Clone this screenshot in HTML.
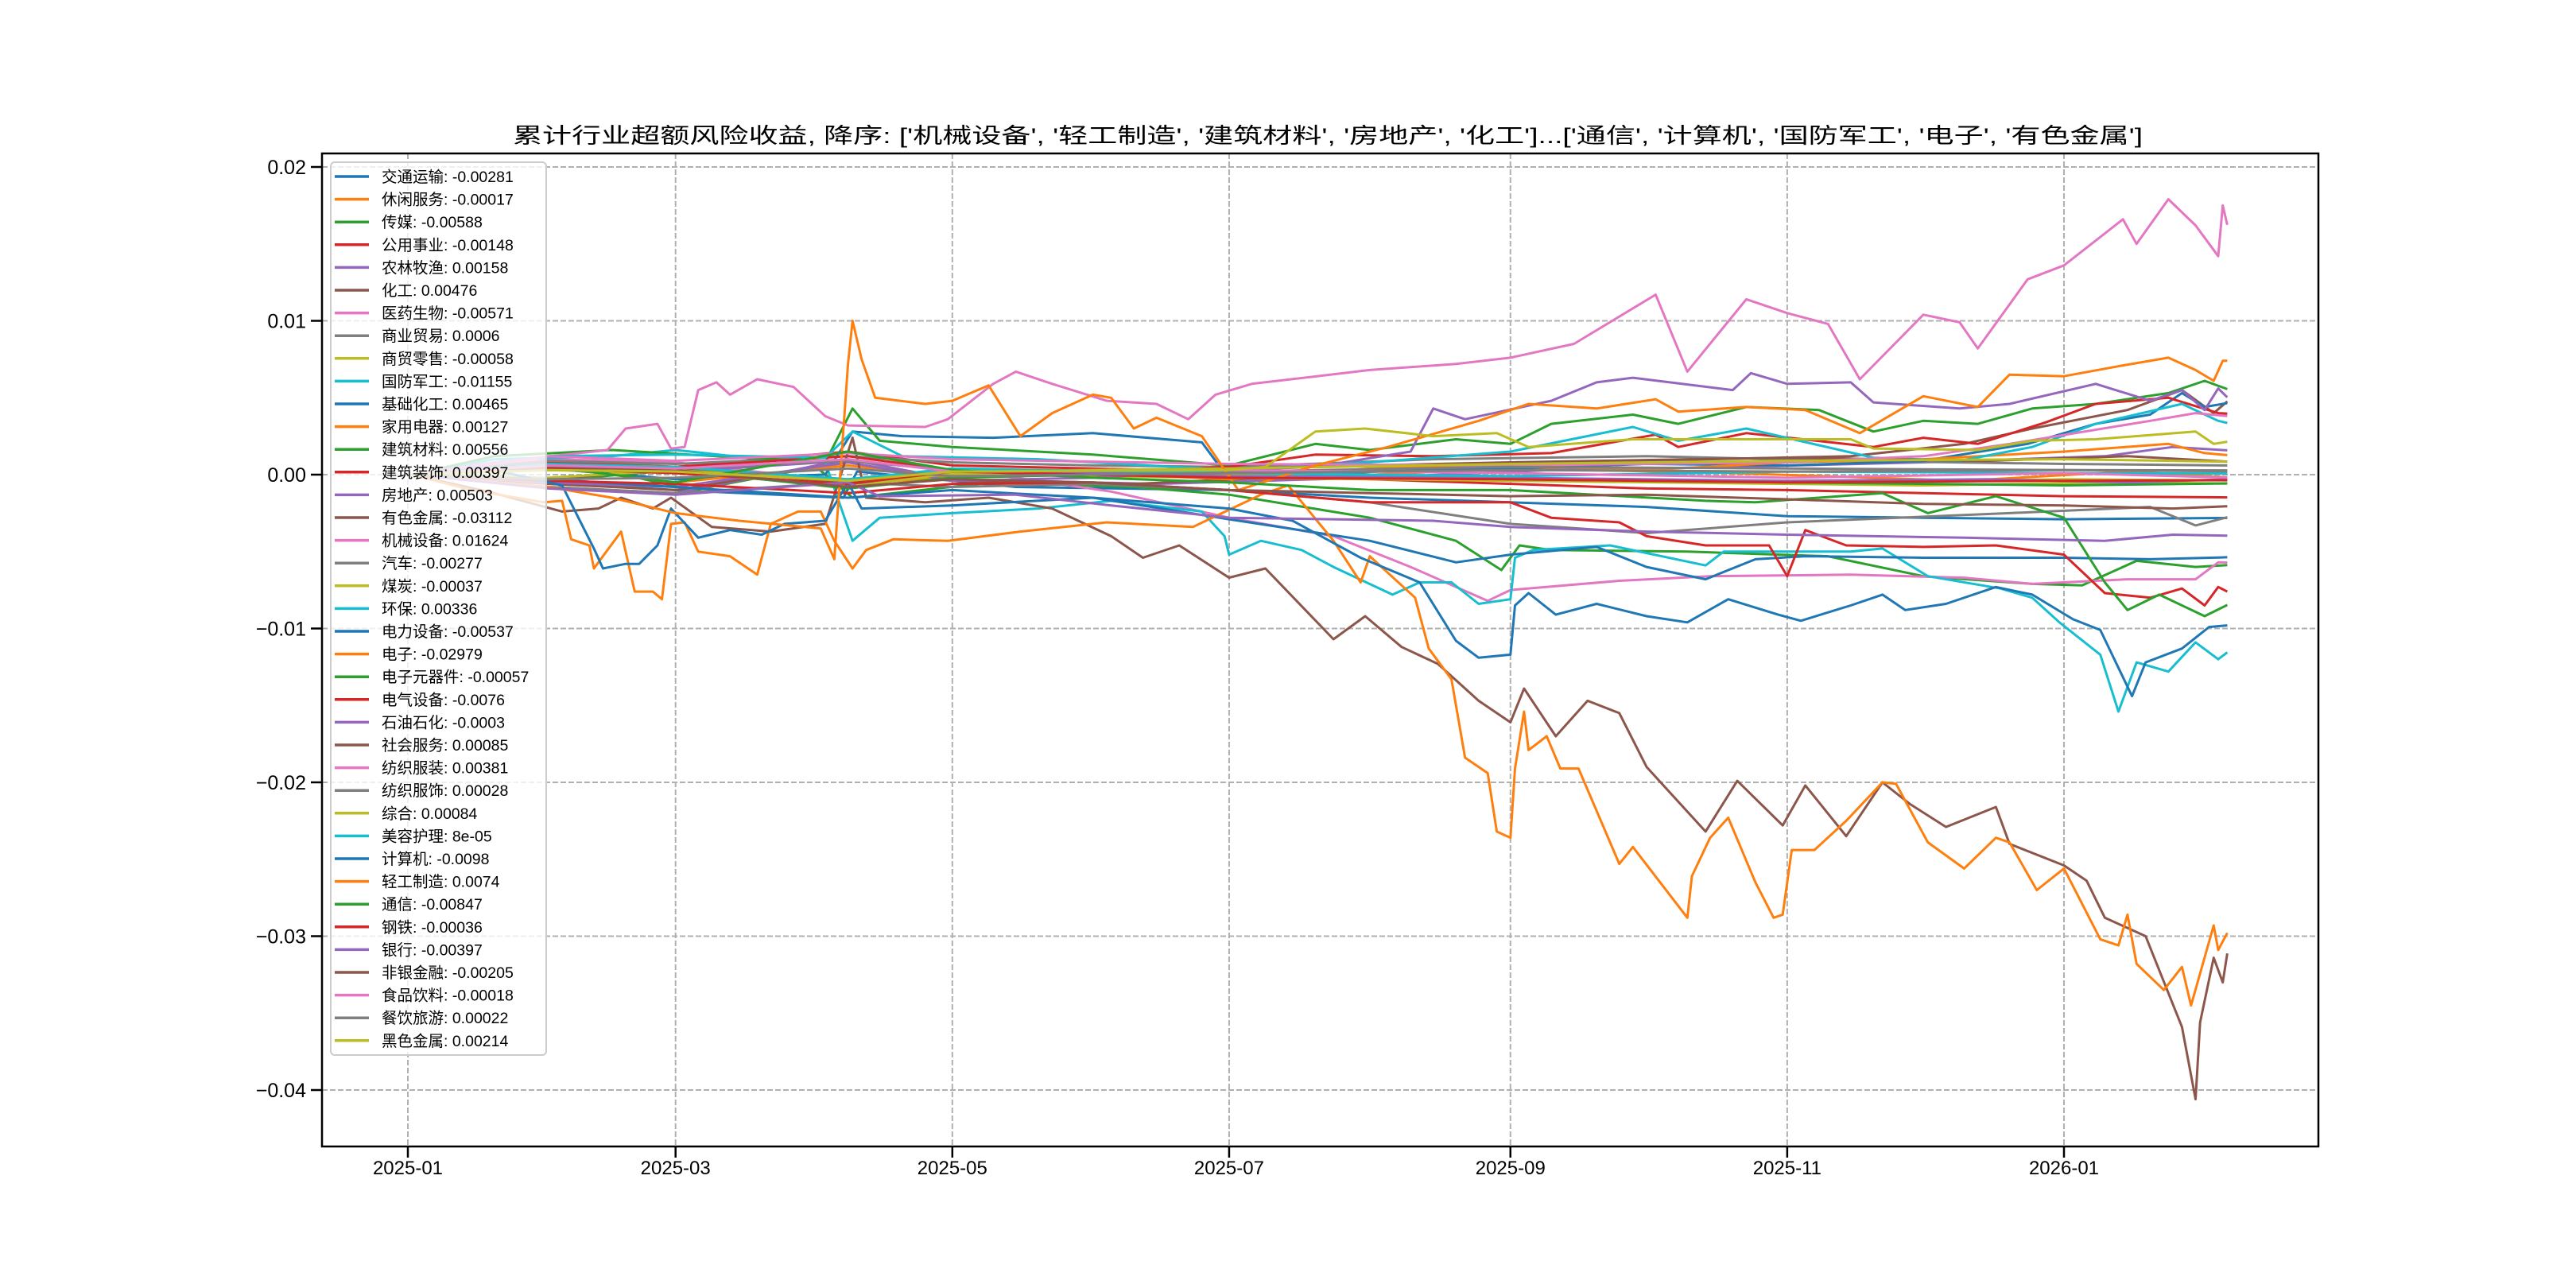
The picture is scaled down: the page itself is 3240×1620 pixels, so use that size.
<!DOCTYPE html>
<html><head><meta charset="utf-8"><style>
html,body{margin:0;padding:0;background:#fff;}
svg{display:block;font-family:"Liberation Sans","Noto Sans CJK SC",sans-serif;}
</style></head><body>
<svg id="chart" width="3240" height="1620" viewBox="0 0 3240 1620" xmlns="http://www.w3.org/2000/svg">
<rect x="0" y="0" width="3240" height="1620" fill="#fff"/>
<text x="1670" y="180" font-size="27" text-anchor="middle" textLength="2050" lengthAdjust="spacingAndGlyphs" fill="#000">累计行业超额风险收益,  降序: ['机械设备', '轻工制造', '建筑材料', '房地产', '化工']...['通信', '计算机', '国防军工', '电子', '有色金属']</text>
<g id="grid"></g>
<g id="lines"></g>
<rect x="405" y="193" width="2511" height="1249" fill="none" stroke="#000" stroke-width="2.5"/>
<g id="axes"></g>
<g id="legend"></g>
</svg>
<script>
const seriesNames = ['交通运输','休闲服务','传媒','公用事业','农林牧渔','化工','医药生物','商业贸易','商贸零售','国防军工','基础化工','家用电器','建筑材料','建筑装饰','房地产','有色金属','机械设备','汽车','煤炭','环保','电力设备','电子','电子元器件','电气设备','石油石化','社会服务','纺织服装','纺织服饰','综合','美容护理','计算机','轻工制造','通信','钢铁','银行','非银金融','食品饮料','餐饮旅游','黑色金属'];
const legendValues = ['-0.00281','-0.00017','-0.00588','-0.00148','0.00158','0.00476','-0.00571','0.0006','-0.00058','-0.01155','0.00465','0.00127','0.00556','0.00397','0.00503','-0.03112','0.01624','-0.00277','-0.00037','0.00336','-0.00537','-0.02979','-0.00057','-0.0076','-0.0003','0.00085','0.00381','0.00028','0.00084','8e-05','-0.0098','0.0074','-0.00847','-0.00036','-0.00397','-0.00205','-0.00018','0.00022','0.00214'];
const seriesDates = [
['25-01-02','25-02-01','25-03-01','25-04-07','25-04-10','25-05-15','25-07-01','25-08-01','25-09-01','25-10-01','25-11-01','25-12-01','26-01-01','26-02-06'],
['25-01-02','25-02-10','25-03-15','25-04-08','25-05-20','25-07-10','25-09-01','25-10-20','25-12-10','26-01-15','26-02-06'],
['25-01-02','25-02-05','25-03-05','25-04-01','25-04-09','25-05-10','25-06-10','25-07-01','25-08-01','25-08-20','25-08-30','25-09-03','25-09-10','25-10-10','25-11-10','25-12-01','25-12-25','26-01-05','26-01-17','26-01-30','26-02-06'],
['25-01-02','25-02-01','25-03-01','25-04-08','25-05-01','25-06-01','25-07-01','25-08-01','25-09-01','25-10-01','25-11-01','25-12-01','26-01-01','26-02-06'],
['25-01-02','25-02-01','25-03-01','25-04-08','25-05-01','25-06-15','25-08-01','25-09-10','25-10-20','25-12-01','26-01-10','26-01-25','26-02-06'],
['25-01-02','25-02-01','25-03-01','25-04-08','25-05-01','25-06-10','25-07-10','25-08-20','25-09-15','25-10-15','25-11-15','25-12-10','25-12-25','26-01-15','26-01-27','26-02-03','26-02-06'],
['25-01-02','25-02-01','25-03-01','25-04-08','25-05-01','25-06-05','25-07-01','25-07-24','25-08-10','25-08-20','25-08-27','25-09-01','25-09-25','25-10-15','25-11-15','25-12-10','25-12-25','26-01-15','26-01-30','26-02-04','26-02-06'],
['25-01-02','25-02-01','25-03-01','25-04-08','25-05-01','25-06-01','25-07-01','25-08-15','25-10-01','25-11-15','26-01-01','26-02-06'],
['25-01-02','25-02-01','25-03-01','25-04-08','25-05-01','25-07-01','25-09-01','25-11-01','25-12-01','26-01-15','26-02-06'],
['25-01-02','25-01-20','25-02-15','25-03-01','25-03-20','25-04-03','25-04-09','25-04-15','25-05-01','25-05-20','25-06-05','25-06-25','25-06-30','25-07-01','25-07-08','25-07-17','25-07-24','25-08-06','25-08-12','25-08-19','25-08-25','25-09-01','25-09-02','25-09-06','25-09-23','25-10-14','25-10-18','25-11-15','25-11-22','25-12-02','25-12-18','25-12-25','25-12-31','26-01-09','26-01-13','26-01-17','26-01-24','26-01-30','26-02-04','26-02-06'],
['25-01-02','25-02-01','25-03-01','25-04-03','25-04-09','25-04-20','25-05-10','25-06-01','25-06-25','25-07-01','25-08-01','25-09-01','25-10-01','25-11-01','25-12-01','25-12-24','26-01-08','26-01-20','26-01-27','26-02-01','26-02-06'],
['25-01-02','25-02-01','25-03-01','25-04-08','25-05-01','25-06-01','25-07-01','25-08-01','25-09-01','25-10-01','25-11-01','25-12-01','26-01-01','26-01-24','26-02-01','26-02-06'],
['25-01-02','25-01-20','25-02-15','25-03-10','25-04-03','25-04-09','25-04-15','25-05-01','25-06-01','25-07-01','25-07-20','25-08-01','25-08-20','25-09-01','25-09-10','25-09-28','25-10-08','25-10-23','25-11-08','25-11-20','25-12-01','25-12-13','25-12-25','26-01-08','26-01-24','26-02-01','26-02-06'],
['25-01-02','25-02-01','25-03-01','25-04-08','25-05-01','25-06-01','25-07-01','25-07-20','25-08-15','25-09-10','25-10-03','25-10-08','25-10-23','25-11-20','25-12-01','25-12-13','25-12-28','26-01-08','26-01-24','26-02-04','26-02-06'],
['25-01-02','25-02-01','25-03-01','25-04-08','25-05-01','25-06-01','25-07-01','25-07-20','25-08-10','25-08-15','25-08-22','25-09-10','25-09-20','25-09-28','25-10-20','25-10-24','25-11-01','25-11-15','25-11-20','25-12-09','25-12-20','26-01-08','26-01-20','26-01-27','26-02-01','26-02-04','26-02-06'],
['25-01-02','25-01-20','25-02-04','25-02-12','25-02-17','25-02-24','25-02-28','25-03-09','25-03-22','25-04-03','25-04-09','25-04-12','25-04-25','25-05-09','25-05-23','25-06-05','25-06-12','25-06-20','25-07-01','25-07-09','25-07-24','25-07-31','25-08-08','25-08-16','25-08-25','25-09-01','25-09-04','25-09-11','25-09-18','25-09-25','25-10-01','25-10-14','25-10-21','25-10-31','25-11-05','25-11-14','25-11-22','25-11-28','25-12-06','25-12-17','25-12-20','26-01-01','26-01-06','26-01-10','26-01-19','26-01-27','26-01-30','26-01-31','26-02-03','26-02-05','26-02-06'],
['25-01-02','25-01-20','25-02-14','25-02-18','25-02-25','25-02-28','25-03-03','25-03-06','25-03-10','25-03-13','25-03-19','25-03-27','25-04-03','25-04-08','25-04-25','25-04-30','25-05-10','25-05-15','25-05-23','25-06-04','25-06-15','25-06-22','25-06-28','25-07-06','25-08-01','25-08-20','25-09-01','25-09-15','25-10-03','25-10-10','25-10-23','25-11-01','25-11-10','25-11-17','25-12-01','25-12-09','25-12-13','25-12-24','26-01-01','26-01-14','26-01-17','26-01-24','26-01-30','26-02-04','26-02-05','26-02-06'],
['25-01-02','25-02-01','25-03-01','25-04-08','25-05-01','25-06-01','25-07-01','25-08-01','25-09-01','25-10-01','25-11-01','25-12-20','26-01-20','26-01-30','26-02-06'],
['25-01-02','25-02-01','25-03-01','25-04-08','25-05-01','25-07-01','25-08-01','25-10-01','25-11-20','26-01-01','26-02-06'],
['25-01-02','25-02-01','25-03-01','25-04-03','25-04-09','25-04-20','25-05-20','25-07-01','25-08-01','25-09-01','25-09-28','25-10-08','25-10-23','25-11-20','25-12-09','25-12-25','26-01-08','26-01-27','26-02-04','26-02-06'],
['25-01-02','25-02-01','25-03-01','25-04-08','25-05-01','25-06-01','25-07-01','25-08-01','25-08-20','25-09-01','25-09-20','25-10-01','25-10-14','25-10-25','25-11-05','25-12-01','26-01-01','26-01-20','26-02-06'],
['25-01-02','25-01-15','25-01-31','25-02-04','25-02-06','25-02-10','25-02-11','25-02-17','25-02-20','25-02-24','25-02-26','25-02-28','25-03-03','25-03-06','25-03-13','25-03-19','25-03-22','25-03-28','25-04-02','25-04-05','25-04-09','25-04-12','25-04-18','25-04-30','25-05-16','25-06-04','25-06-23','25-07-08','25-07-14','25-07-24','25-07-30','25-08-01','25-08-11','25-08-14','25-08-19','25-08-22','25-08-27','25-08-29','25-09-01','25-09-02','25-09-04','25-09-05','25-09-09','25-09-12','25-09-16','25-09-25','25-09-28','25-10-10','25-10-11','25-10-15','25-10-19','25-10-25','25-10-29','25-10-31','25-11-02','25-11-07','25-11-14','25-11-22','25-11-25','25-12-02','25-12-10','25-12-17','25-12-20','25-12-26','26-01-01','26-01-09','26-01-13','26-01-15','26-01-17','26-01-23','26-01-27','26-01-29','26-02-03','26-02-04','26-02-06'],
['25-01-02','25-02-01','25-03-01','25-04-08','25-05-01','25-07-01','25-09-01','25-11-01','26-01-01','26-02-06'],
['25-01-02','25-02-01','25-03-01','25-04-08','25-05-01','25-06-01','25-07-01','25-08-01','25-09-01','25-09-10','25-09-25','25-10-01','25-10-14','25-10-28','25-11-01','25-11-05','25-11-14','25-12-01','25-12-17','26-01-01','26-01-10','26-01-20','26-01-27','26-02-01','26-02-04','26-02-06'],
['25-01-02','25-02-01','25-03-01','25-04-08','25-05-01','25-07-01','25-09-01','25-11-01','25-12-15','26-01-15','26-02-06'],
['25-01-02','25-02-01','25-03-01','25-04-08','25-05-01','25-07-01','25-09-01','25-11-01','25-12-15','26-01-15','26-02-06'],
['25-01-02','25-02-01','25-03-01','25-04-08','25-05-01','25-07-01','25-09-01','25-11-01','25-12-01','25-12-20','26-01-20','26-01-30','26-02-06'],
['25-01-02','25-02-01','25-03-01','25-04-08','25-05-01','25-07-01','25-09-01','25-11-01','26-01-01','26-02-06'],
['25-01-02','25-02-01','25-03-01','25-04-08','25-05-01','25-07-01','25-09-01','25-11-01','26-01-01','26-02-06'],
['25-01-02','25-02-01','25-03-01','25-04-08','25-05-01','25-07-01','25-09-01','25-11-01','26-01-01','26-02-06'],
['25-01-02','25-01-20','25-02-04','25-02-11','25-02-13','25-02-18','25-02-21','25-02-25','25-02-28','25-03-06','25-03-13','25-03-20','25-03-25','25-04-03','25-04-08','25-04-11','25-05-01','25-06-01','25-07-01','25-07-15','25-07-30','25-08-12','25-08-20','25-08-25','25-09-01','25-09-02','25-09-05','25-09-11','25-09-20','25-10-01','25-10-10','25-10-19','25-10-30','25-11-04','25-11-15','25-11-22','25-11-27','25-12-06','25-12-17','25-12-25','26-01-03','26-01-09','26-01-16','26-01-19','26-01-27','26-02-02','26-02-06'],
['25-01-02','25-02-01','25-02-15','25-03-01','25-03-15','25-04-02','25-04-05','25-04-08','25-04-09','25-04-11','25-04-14','25-04-25','25-05-01','25-05-09','25-05-16','25-05-23','25-06-01','25-06-05','25-06-10','25-06-15','25-06-25','25-07-03','25-07-20','25-08-05','25-08-25','25-09-05','25-09-20','25-10-03','25-10-08','25-10-23','25-11-05','25-11-17','25-12-01','25-12-13','25-12-20','26-01-01','26-01-14','26-01-24','26-01-30','26-02-03','26-02-05','26-02-06'],
['25-01-02','25-02-01','25-03-01','25-04-08','25-05-01','25-06-01','25-07-01','25-08-01','25-09-01','25-10-14','25-10-25','25-11-22','25-12-02','25-12-17','26-01-01','26-01-10','26-01-15','26-01-22','26-02-01','26-02-06'],
['25-01-02','25-02-01','25-03-01','25-04-08','25-05-01','25-07-01','25-09-01','25-11-01','26-01-01','26-02-06'],
['25-01-02','25-02-01','25-03-01','25-04-08','25-04-15','25-05-15','25-06-05','25-07-01','25-08-15','25-09-01','25-10-01','25-11-01','25-12-10','26-01-10','26-01-25','26-02-06'],
['25-01-02','25-02-01','25-03-01','25-04-08','25-05-01','25-06-01','25-07-01','25-08-01','25-09-01','25-10-01','25-11-01','25-12-01','26-01-01','26-01-25','26-02-06'],
['25-01-02','25-02-01','25-03-01','25-04-08','25-05-01','25-07-01','25-09-01','25-11-01','26-01-01','26-02-06'],
['25-01-02','25-02-01','25-03-01','25-04-08','25-05-01','25-07-01','25-09-01','25-11-01','26-01-01','26-02-06'],
['25-01-02','25-02-01','25-03-01','25-04-08','25-05-01','25-07-01','25-07-09','25-07-20','25-07-31','25-08-15','25-08-29','25-09-05','25-09-28','25-10-23','25-11-15','25-11-20','25-12-13','25-12-25','26-01-08','26-01-30','26-02-03','26-02-06']
];
const seriesValues = [
[0,-0.0005,-0.001,-0.0015,0.0002,-0.0008,-0.001,-0.0015,-0.0018,-0.0021,-0.0027,-0.0028,-0.0029,-0.00281],
[0,0.0008,0.0003,-0.0006,0.0002,-0.0003,0.0004,0.0001,-0.0004,0.0002,-0.00017],
[0,0.0008,-0.001,0.0005,-0.0015,-0.0005,-0.0008,-0.0013,-0.0028,-0.0043,-0.0062,-0.0046,-0.0049,-0.005,-0.0053,-0.0066,-0.0071,-0.0072,-0.0056,-0.006,-0.00588],
[0,0.0008,0.0005,0.0015,0.0006,0.0004,0.0002,-0.0003,-0.0006,-0.0009,-0.001,-0.0012,-0.0014,-0.00148],
[0,-0.0008,-0.0012,0.001,-0.0003,-0.0006,-0.0002,0.0003,0.0005,0.0008,0.0012,0.0018,0.00158],
[0,-0.0006,-0.001,0.0008,-0.0004,-0.0006,-0.0002,0.0005,0.0008,0.001,0.0012,0.002,0.003,0.0042,0.0055,0.004,0.00476],
[0,0.001,0.0008,-0.0005,0.0004,-0.0011,-0.0028,-0.004,-0.006,-0.0073,-0.0082,-0.0075,-0.0069,-0.0066,-0.0065,-0.0067,-0.0071,-0.0068,-0.0068,-0.0057,-0.00571],
[0,0.0009,0.0007,0.0012,0.0008,0.0006,0.0005,0.001,0.0012,0.0009,0.0007,0.0006],
[0,0.0003,0.0001,-0.0007,0,-0.0002,-0.0004,-0.0006,-0.0007,-0.0005,-0.00058],
[0,0.001,0.0012,0.0016,0.001,0.0008,-0.0043,-0.0028,-0.0025,-0.0022,-0.0017,-0.0024,-0.004,-0.0052,-0.0043,-0.0049,-0.006,-0.0078,-0.007,-0.007,-0.0084,-0.0081,-0.0054,-0.0049,-0.0046,-0.0059,-0.005,-0.005,-0.0048,-0.0066,-0.0074,-0.008,-0.0096,-0.0117,-0.0154,-0.0122,-0.0128,-0.0109,-0.012,-0.01155],
[0,0.0004,-0.0003,0,0.0028,0.0025,0.0024,0.0027,0.0021,-0.0003,0.0002,0.0004,0.0007,0.0006,0.0009,0.002,0.0033,0.0039,0.0053,0.0044,0.00465],
[0,0.0005,-0.0005,0.0006,-0.0002,0.0001,-0.0003,0.0004,0.0006,0.0003,0.0008,0.001,0.0015,0.002,0.0014,0.00127],
[0,0.0012,0.0016,0.0012,0.0008,0.0043,0.0022,0.0018,0.0013,0.0006,0.002,0.0016,0.0023,0.002,0.0033,0.0039,0.0033,0.0044,0.0042,0.0028,0.0035,0.0033,0.0043,0.0046,0.0053,0.0061,0.00556],
[0,0.0007,0.0005,0.0012,0.0003,0.0001,0.0005,0.0013,0.0012,0.0014,0.0026,0.0018,0.0027,0.0018,0.0024,0.002,0.0034,0.0046,0.005,0.004,0.00397],
[0,-0.0005,-0.0008,0.0008,-0.0004,-0.0002,0.0003,0.0005,0.0015,0.0043,0.0036,0.0048,0.006,0.0063,0.0055,0.0066,0.0059,0.006,0.0047,0.0043,0.0046,0.0059,0.0048,0.0055,0.0042,0.0056,0.00503],
[0,-0.0012,-0.0024,-0.0022,-0.0015,-0.0022,-0.0015,-0.0034,-0.0037,-0.0032,0.0024,-0.0015,-0.0018,-0.0015,-0.0022,-0.004,-0.0054,-0.0046,-0.0067,-0.0061,-0.0107,-0.0092,-0.0112,-0.0123,-0.0147,-0.0161,-0.0139,-0.017,-0.0147,-0.0155,-0.019,-0.0232,-0.0199,-0.0228,-0.0202,-0.0235,-0.02,-0.0214,-0.0229,-0.0216,-0.024,-0.0254,-0.0264,-0.0288,-0.03,-0.0359,-0.0406,-0.0356,-0.0314,-0.033,-0.03112],
[0,0.0008,0.0016,0.003,0.0033,0.0017,0.0018,0.0055,0.006,0.0052,0.0062,0.0057,0.0038,0.0032,0.0031,0.0036,0.0059,0.0067,0.0059,0.0048,0.0046,0.0036,0.0052,0.0059,0.0068,0.0072,0.0076,0.0085,0.0117,0.0067,0.0114,0.0105,0.0098,0.0062,0.0104,0.0099,0.0082,0.0127,0.0136,0.0166,0.015,0.0179,0.0162,0.0142,0.0175,0.01624],
[0,-0.0008,-0.0012,-0.0005,-0.0008,-0.0006,-0.001,-0.0018,-0.0032,-0.0038,-0.0031,-0.0025,-0.0021,-0.0033,-0.00277],
[0,0.0004,0.0002,-0.0008,0.0001,0,-0.0002,-0.0004,-0.0005,-0.0003,-0.00037],
[0,0.0012,0.0013,0.0011,0.0028,0.0012,0.001,0.0003,0.0008,0.0015,0.0031,0.0022,0.003,0.0011,0.0009,0.0018,0.0033,0.0046,0.0035,0.00336],
[0,-0.0003,-0.0008,-0.0015,-0.001,-0.0015,-0.0029,-0.0043,-0.0057,-0.0052,-0.0047,-0.006,-0.0068,-0.0055,-0.0053,-0.0054,-0.0054,-0.0055,-0.00537],
[0,-0.001,-0.0018,-0.0017,-0.0042,-0.0046,-0.0061,-0.0037,-0.0076,-0.0076,-0.0081,-0.0032,-0.0031,-0.005,-0.0053,-0.0065,-0.0032,-0.0024,-0.0024,-0.0043,-0.0061,-0.0049,-0.0042,-0.0043,-0.0037,-0.0031,-0.0034,-0.0013,-0.0007,-0.0043,-0.007,-0.0053,-0.008,-0.0113,-0.0133,-0.0184,-0.0194,-0.0232,-0.0236,-0.0191,-0.0154,-0.0179,-0.017,-0.0191,-0.0191,-0.0253,-0.0242,-0.0288,-0.0261,-0.0236,-0.0223,-0.0265,-0.0288,-0.0286,-0.0244,-0.0244,-0.0225,-0.02,-0.0201,-0.0239,-0.0256,-0.0236,-0.0239,-0.027,-0.0256,-0.0302,-0.0306,-0.0286,-0.0318,-0.0335,-0.032,-0.0345,-0.0293,-0.0309,-0.02979],
[0,-0.0004,0.0003,-0.0009,-0.0002,0.0002,-0.0003,-0.0005,-0.0007,-0.00057],
[0,-0.0004,-0.0006,-0.0012,-0.0006,-0.0005,-0.001,-0.0018,-0.0018,-0.0028,-0.0031,-0.004,-0.0046,-0.0046,-0.0066,-0.0036,-0.0046,-0.0047,-0.0046,-0.0052,-0.0077,-0.008,-0.0074,-0.0085,-0.0073,-0.0076],
[0,0.0005,0.0002,0.0009,0.0003,-0.0001,-0.0002,-0.0004,-0.0003,-0.0005,-0.0003],
[0,-0.0003,0.0004,-0.0005,0.0002,0.0004,0.0008,0.0011,0.0009,0.0012,0.00085],
[0,0.0012,0.0009,0.0014,0.001,0.0007,0.0006,0.0008,0.0012,0.002,0.0035,0.004,0.00381],
[0,0.0006,0.0004,0.0009,0.0003,0.0002,0.0005,0.0004,0.0003,0.00028],
[0,-0.0002,0.0003,-0.0004,0.0002,0.0004,0.0007,0.0009,0.001,0.00084],
[0,0.0007,0.0005,-0.0003,0.0004,0.0001,-0.0001,0.0002,0.0001,0.00008],
[0,0.0003,-0.0007,-0.0048,-0.0061,-0.0058,-0.0058,-0.0046,-0.0022,-0.0041,-0.0036,-0.0039,-0.0032,-0.003,-0.0005,-0.0022,-0.002,-0.0015,-0.0022,-0.003,-0.0054,-0.007,-0.0108,-0.0119,-0.0117,-0.0085,-0.0077,-0.0091,-0.0084,-0.0092,-0.0096,-0.0081,-0.0091,-0.0095,-0.0085,-0.0078,-0.0088,-0.0084,-0.0073,-0.0078,-0.0094,-0.0101,-0.0144,-0.0122,-0.0113,-0.0099,-0.0098],
[0,-0.0008,-0.0015,-0.0025,-0.003,-0.0035,-0.0055,0.0072,0.01,0.0075,0.005,0.0046,0.0048,0.0058,0.0025,0.004,0.0052,0.005,0.003,0.0037,0.0025,-0.001,0.0006,0.0018,0.0035,0.0046,0.0043,0.0049,0.0041,0.0044,0.0042,0.0027,0.0051,0.0044,0.0065,0.0064,0.0071,0.0076,0.0068,0.0061,0.0074,0.0074],
[0,0.0005,-0.0005,0.0015,0.0003,-0.0002,-0.0005,-0.001,-0.001,-0.0017,-0.0018,-0.0012,-0.0025,-0.0014,-0.0028,-0.007,-0.0088,-0.0078,-0.0092,-0.00847],
[0,0.0004,0.0001,-0.0006,0.0002,-0.0002,-0.0003,-0.0005,-0.0004,-0.00036],
[0,-0.0009,-0.0013,-0.0005,-0.0014,-0.0013,-0.002,-0.0028,-0.003,-0.0034,-0.0037,-0.0039,-0.0041,-0.0043,-0.0039,-0.00397],
[0,0.0005,0.0003,-0.0008,-0.0003,-0.0005,-0.001,-0.0012,-0.0014,-0.0013,-0.0016,-0.0019,-0.002,-0.0022,-0.00205],
[0,0.0006,0.0004,0.001,0.0002,0.0003,0.0001,-0.0002,0.0001,-0.00018],
[0,-0.0003,-0.0002,0.0004,-0.0001,0.0001,0.0003,0.0002,0.0003,0.00022],
[0,0.0003,0.0002,-0.0004,0.0002,0.0003,0.0005,0.0028,0.003,0.0025,0.0027,0.0018,0.0023,0.0023,0.0023,0.0017,0.0016,0.0022,0.0023,0.0028,0.002,0.00214]
];
const yTickValues = [0.02, 0.01, 0, -0.01, -0.02, -0.03, -0.04];
const yTickLabels = ['0.02','0.01','0.00','\u22120.01','\u22120.02','\u22120.03','\u22120.04'];
const xTickDates = ['25-01-01','25-03-01','25-05-01','25-07-01','25-09-01','25-11-01','26-01-01'];
const xTickLabels = ['2025-01','2025-03','2025-05','2025-07','2025-09','2025-11','2026-01'];

const palette = ['#1f77b4','#ff7f0e','#2ca02c','#d62728','#9467bd','#8c564b','#e377c2','#7f7f7f','#bcbd22','#17becf'];
const NS = 'http://www.w3.org/2000/svg';
const PL = 405, PR = 2916, PT = 193, PB = 1442;
const ORIGIN = Date.UTC(2025, 0, 1);
function dayOf(s) { const p = s.split('-'); return (Date.UTC(2000 + +p[0], +p[1] - 1, +p[2]) - ORIGIN) / 86400000; }
function xScale(s) { return 513 + dayOf(s) * (2083 / 365); }
function yScale(v) { return 597 - v * 19350; }
function mk(tag, attrs) { const e = document.createElementNS(NS, tag); for (const k in attrs) e.setAttribute(k, attrs[k]); return e; }

const grid = document.getElementById('grid');
const axes = document.getElementById('axes');
yTickValues.forEach((v, i) => {
  const y = yScale(v);
  const gl = mk('line', {x1: PL, x2: PR, y1: y, y2: y, stroke: '#b0b0b0', 'stroke-width': 2, 'stroke-dasharray': '7,3'});
  
  
  grid.appendChild(gl);
  const tk = mk('line', {x1: PL - 14, x2: PL, y1: y, y2: y, stroke: '#000', 'stroke-width': 2.5});
  
  
  axes.appendChild(tk);
  const t = mk('text', {x: PL - 20, y: y + 9, 'font-size': 25, 'text-anchor': 'end', fill: '#000'});
  t.textContent = yTickLabels[i];
  
  
  axes.appendChild(t);
});
xTickDates.forEach((d, i) => {
  const x = xScale(d);
  const gl = mk('line', {x1: x, x2: x, y1: PT, y2: PB, stroke: '#b0b0b0', 'stroke-width': 2, 'stroke-dasharray': '7,3'});
  
  
  grid.appendChild(gl);
  const tk = mk('line', {x1: x, x2: x, y1: PB, y2: PB + 14, stroke: '#000', 'stroke-width': 2.5});
  
  
  axes.appendChild(tk);
  const t = mk('text', {x: x, y: 1477, 'font-size': 24, 'text-anchor': 'middle', fill: '#000'});
  t.textContent = xTickLabels[i];
  
  
  axes.appendChild(t);
});

const lines = document.getElementById('lines');
seriesNames.forEach((name, i) => {
  const ds = seriesDates[i], vs = seriesValues[i];
  const pts = ds.map((d, j) => xScale(d).toFixed(1) + ',' + yScale(vs[j]).toFixed(1)).join(' ');
  const pl = mk('polyline', {points: pts, fill: 'none', stroke: palette[i % 10], 'stroke-width': 3, 'stroke-linejoin': 'round'});
  
  
  lines.appendChild(pl);
});

const legend = document.getElementById('legend');
const box = mk('rect', {x: 416, y: 204, width: 271, height: 1123, rx: 5, fill: 'rgba(255,255,255,0.8)', stroke: '#cccccc', 'stroke-width': 2});


legend.appendChild(box);
seriesNames.forEach((name, i) => {
  const y = 222 + i * 28.6;
  const h = mk('line', {x1: 421, x2: 464, y1: y, y2: y, stroke: palette[i % 10], 'stroke-width': 3.5});
  
  
  legend.appendChild(h);
  const t = mk('text', {x: 480, y: y + 7, 'font-size': 19.5, fill: '#000'});
  t.textContent = name + ': ' + legendValues[i];
  
  
  legend.appendChild(t);
});
</script>
</body></html>
